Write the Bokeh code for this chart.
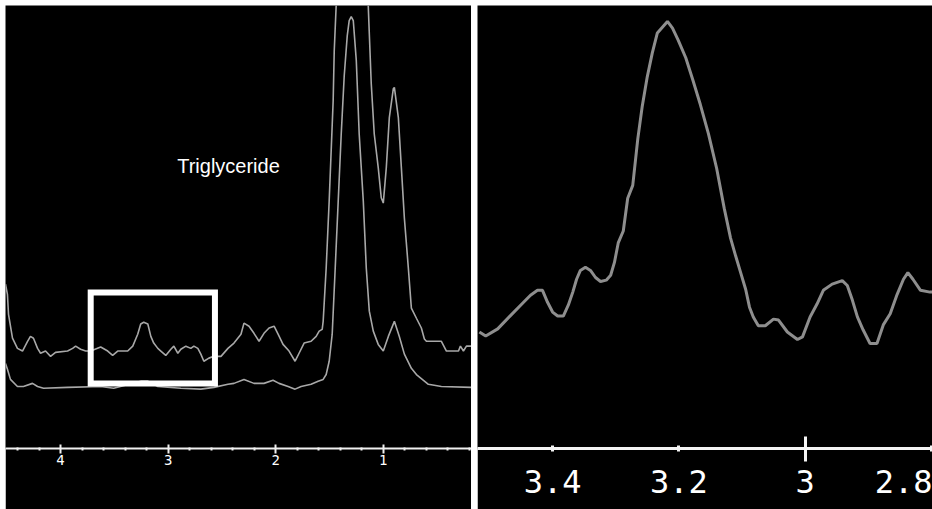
from bokeh.plotting import figure
from bokeh.models import Range1d, FixedTicker, Row
from bokeh.core.properties import value
from bokeh.embed import file_html
from bokeh.resources import INLINE

# ---------------- data (chemical shift in ppm, relative intensity) ----------------
# Left panel: full spectrum, two traces
upper_ppm = [4.512, 4.494, 4.484, 4.447, 4.401, 4.354, 4.307, 4.280, 4.252, 4.214, 4.186, 4.140,
             4.093, 4.047, 3.935, 3.888, 3.860, 3.814, 3.767, 3.720, 3.627, 3.562, 3.516, 3.469,
             3.376, 3.329, 3.283, 3.255, 3.227, 3.189, 3.161, 3.134, 3.096, 3.068, 3.022, 2.975,
             2.947, 2.910, 2.882, 2.835, 2.789, 2.761, 2.724, 2.696, 2.668, 2.621, 2.575, 2.509,
             2.444, 2.388, 2.323, 2.295, 2.248, 2.202, 2.155, 2.109, 2.062, 2.015, 1.978, 1.932,
             1.876, 1.820, 1.783, 1.736, 1.671, 1.624, 1.596, 1.568, 1.559, 1.531, 1.503, 1.466,
             1.456, 1.438, 1.391, 1.298, 1.205, 1.140, 1.130, 1.112, 1.084, 1.047, 1.019, 1.000,
             0.972, 0.944, 0.907, 0.897, 0.860, 0.832, 0.804, 0.767, 0.739, 0.692, 0.646, 0.618,
             0.599, 0.460, 0.413, 0.301, 0.283, 0.255, 0.227, 0.180]
upper_int = [37.1, 34.8, 30.3, 24.9, 22.6, 22.0, 24.2, 25.3, 24.9, 22.6, 21.5, 22.0,
             20.8, 21.7, 22.0, 22.6, 23.1, 22.4, 22.0, 22.0, 22.9, 22.0, 21.0, 22.0,
             22.0, 23.1, 25.8, 28.1, 28.5, 28.1, 25.3, 23.8, 22.6, 22.0, 21.0, 22.4,
             23.1, 21.5, 22.4, 23.1, 22.6, 23.1, 22.6, 21.3, 19.7, 20.4, 20.8, 20.8,
             22.6, 23.8, 25.8, 28.3, 27.6, 26.0, 24.2, 26.0, 27.2, 27.6, 25.8, 23.5,
             22.0, 19.7, 21.5, 23.8, 24.2, 25.3, 26.5, 26.9, 28.7, 40.7, 55.9, 78.5,
             89.8, 100.0, 110.2, 119.2, 110.2, 100.0, 93.7, 82.4, 71.0, 63.4, 56.6, 55.4,
             63.4, 74.7, 81.2, 81.5, 74.7, 63.4, 52.0, 40.7, 31.7, 29.4, 27.2, 24.7,
             24.2, 24.2, 22.0, 22.0, 23.1, 22.0, 23.1, 23.1]

lower_ppm = [4.512, 4.494, 4.466, 4.401, 4.345, 4.261, 4.214, 4.158, 3.935, 3.627, 3.506, 3.255,
             3.189, 3.096, 2.882, 2.696, 2.575, 2.444, 2.388, 2.295, 2.202, 2.109, 2.025, 1.969,
             1.885, 1.820, 1.764, 1.671, 1.606, 1.559, 1.531, 1.503, 1.475, 1.447, 1.419, 1.391,
             1.363, 1.335, 1.317, 1.298, 1.279, 1.251, 1.224, 1.186, 1.158, 1.130, 1.093, 1.047,
             1.000, 0.953, 0.897, 0.851, 0.804, 0.739, 0.692, 0.581, 0.460, 0.180]
lower_int = [19.2, 17.9, 15.6, 14.0, 14.0, 14.7, 14.0, 13.6, 13.8, 14.0, 13.6, 15.2,
             15.2, 14.0, 13.6, 13.4, 13.8, 14.5, 14.7, 15.6, 14.7, 14.7, 15.4, 14.7,
             14.0, 13.4, 14.0, 14.5, 15.2, 15.6, 16.7, 19.7, 25.8, 40.7, 55.9, 71.0,
             84.2, 93.2, 96.6, 97.5, 96.6, 87.6, 71.0, 55.9, 40.7, 31.0, 26.5, 23.5,
             22.0, 25.3, 28.7, 25.3, 21.3, 18.1, 16.7, 14.5, 14.0, 13.8]

# Zoom window drawn on the left panel (ppm, intensity)
box_ppm = [3.720, 2.565]
box_int = [14.7, 35.2]
label_text = "Triglyceride"
label_pos = [2.439, 63.8]

# Right panel: zoomed region
zoom_ppm = [3.516, 3.506, 3.487, 3.466, 3.446, 3.435, 3.424, 3.416, 3.408, 3.400, 3.392, 3.383,
            3.375, 3.368, 3.362, 3.356, 3.348, 3.340, 3.332, 3.324, 3.315, 3.308, 3.302, 3.296,
            3.288, 3.281, 3.273, 3.265, 3.258, 3.250, 3.242, 3.234, 3.226, 3.218, 3.210, 3.201,
            3.189, 3.178, 3.166, 3.153, 3.140, 3.128, 3.118, 3.110, 3.102, 3.094, 3.088, 3.082,
            3.074, 3.063, 3.050, 3.042, 3.028, 3.012, 3.004, 2.992, 2.981, 2.971, 2.957, 2.941,
            2.933, 2.925, 2.917, 2.908, 2.897, 2.886, 2.876, 2.865, 2.854, 2.844, 2.837, 2.829,
            2.817, 2.802, 2.798]
zoom_int = [26.3, 25.4, 27.0, 30.1, 33.0, 34.6, 35.7, 35.7, 33.0, 30.8, 29.9, 29.9,
            32.4, 35.3, 38.2, 40.2, 40.9, 40.2, 38.6, 37.7, 38.0, 39.1, 42.0, 46.4,
            49.1, 56.5, 59.4, 69.9, 77.2, 83.9, 89.3, 93.8, 95.1, 96.4, 94.9, 92.2,
            88.2, 83.3, 77.7, 71.0, 63.2, 54.2, 47.5, 43.5, 39.7, 35.9, 31.9, 29.7,
            27.7, 27.7, 29.2, 29.0, 26.3, 24.6, 25.2, 29.7, 32.6, 35.7, 37.1, 37.9,
            36.8, 33.5, 29.7, 26.8, 23.7, 23.7, 27.9, 30.4, 34.8, 38.2, 39.7, 38.2,
            35.7, 35.3, 35.3]

# Axis ticks
left_major_ticks = [4, 3, 2, 1]
left_minor_ticks = [4.4, 4.2, 3.8, 3.6, 3.4, 3.2, 2.8, 2.6, 2.4, 2.2, 1.8, 1.6, 1.4, 1.2,
                    0.8, 0.6, 0.4, 0.2]
right_ticks = [3.4, 3.2, 3.0, 2.8]
right_tick_labels = ["3.4", "3.2", "3", "2.8"]
right_long_ticks = [3.0]

left_xrange = [4.512, 0.18]
right_xrange = [3.519, 2.798]

# ---------------- left panel ----------------
p1 = figure(width=466, height=504, x_range=Range1d(*left_xrange), y_range=Range1d(0, 100),
            output_backend="svg", toolbar_location=None, y_axis_location=None,
            background_fill_color="black", border_fill_color="black",
            min_border_left=0, min_border_right=0, min_border_top=0, min_border_bottom=61,
            outline_line_color=None)
p1.grid.visible = False
p1.line(upper_ppm, upper_int, line_color="#a8a8a8", line_width=1.6)
p1.line(lower_ppm, lower_int, line_color="#a8a8a8", line_width=1.6)
p1.quad(left=[box_ppm[0]], right=[box_ppm[1]], bottom=[box_int[0]], top=[box_int[1]],
        fill_alpha=0, line_color="white", line_width=6, line_join="miter")
p1.text(x=[label_pos[0]], y=[label_pos[1]], text=[label_text], text_color="white",
        text_font=value("Liberation Sans"), text_font_size="20px",
        text_align="center", text_baseline="middle")

ax1 = p1.xaxis[0]
ax1.ticker = FixedTicker(ticks=left_major_ticks, minor_ticks=left_minor_ticks)
ax1.axis_line_color = "#f0f0f0"
ax1.axis_line_width = 2
ax1.major_tick_line_color = "#f0f0f0"
ax1.major_tick_line_width = 2
ax1.major_tick_in = 4
ax1.major_tick_out = 5
ax1.minor_tick_line_color = "#f0f0f0"
ax1.minor_tick_line_width = 2
ax1.minor_tick_in = 1
ax1.minor_tick_out = 2
ax1.major_label_text_color = "white"
ax1.major_label_text_font = "DejaVu Sans Mono"
ax1.major_label_text_font_size = "14px"
ax1.major_label_standoff = 1

# ---------------- right panel ----------------
p2 = figure(width=455, height=504, x_range=Range1d(*right_xrange), y_range=Range1d(0, 100),
            output_backend="svg", toolbar_location=None, y_axis_location=None,
            background_fill_color="black", border_fill_color="black",
            min_border_left=0, min_border_right=0, min_border_top=0, min_border_bottom=56,
            outline_line_color=None)
p2.grid.visible = False
p2.line(zoom_ppm, zoom_int, line_color="#8e8e8e", line_width=3)

ax2 = p2.xaxis[0]
ax2.ticker = FixedTicker(ticks=right_ticks, minor_ticks=right_long_ticks)
ax2.major_label_overrides = dict(zip(right_ticks, right_tick_labels))
ax2.axis_line_color = "#f4f4f4"
ax2.axis_line_width = 3
ax2.major_tick_line_color = "#f4f4f4"
ax2.major_tick_line_width = 3
ax2.major_tick_in = 3
ax2.major_tick_out = 3
ax2.minor_tick_line_color = "#f4f4f4"
ax2.minor_tick_line_width = 3
ax2.minor_tick_in = 12
ax2.minor_tick_out = 13
ax2.major_label_text_color = "white"
ax2.major_label_text_font = "DejaVu Sans Mono"
ax2.major_label_text_font_size = "32px"
ax2.major_label_standoff = 8

layout = Row(children=[p1, p2], spacing=6, margin=(5, 0, 0, 5))

open("out.html", "w").write(file_html(layout, INLINE))
